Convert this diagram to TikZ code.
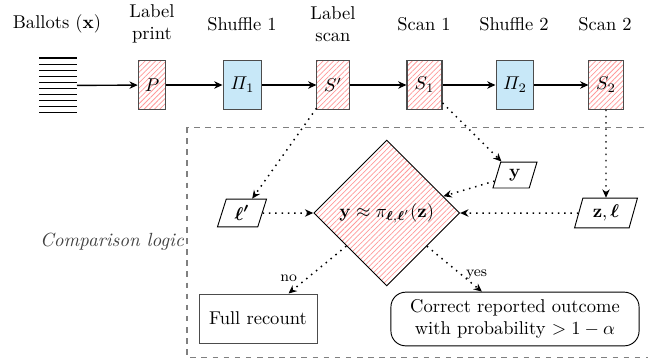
\documentclass[tikz,border=0pt]{standalone}
\usepackage{amsmath,amssymb}
\usetikzlibrary{shapes.geometric,arrows.meta,patterns.meta}
\definecolor{shufblue}{RGB}{200,232,248}
\newcommand{\myDiaText}{$\mathbf{y}\approx\pi_{\boldsymbol{\ell},\boldsymbol{\ell}^{\prime}}(\mathbf{z})$}
\newcommand{\myLp}{$\boldsymbol{\ell}^{\boldsymbol{\prime}}$}
\newcommand{\myZl}{$\mathbf{z},\boldsymbol{\ell}$}
\tikzset{
  hatchfill/.style={pattern={Lines[angle=45,distance=2pt,line width=0.4pt]}, pattern color=red!40},
}
\begin{document}
\begin{tikzpicture}[x=0.54pt,y=-0.54pt,
  stage/.style={draw=black!70, line width=0.55pt, minimum height=26pt, inner sep=2pt},
  hatched/.style={stage, hatchfill},
  shuf/.style={stage, fill=shufblue},
  toplabel/.style={align=center},
  arr/.style={-{Stealth[length=4.5pt,width=4pt]}, line width=0.75pt},
  dotarr/.style={-{Stealth[length=4.5pt,width=4pt]}, line width=0.8pt, dash pattern=on 0.8pt off 2.6pt},
  data/.style={draw, trapezium, trapezium left angle=75, trapezium right angle=105, trapezium stretches=true, inner sep=1pt, line width=0.5pt},
  edgelabel/.style={font=\footnotesize, inner sep=1pt},
  decision/.style={shape=diamond, draw, minimum width=78.8pt, minimum height=78.8pt, inner sep=0pt, line width=0.5pt, hatchfill},
]
\useasboundingbox (0,0) rectangle (648,358);

% dashed comparison frame
\draw[dashed, black!50, line width=0.55pt] (187,127) rectangle (680,357);
\node[font=\fontsize{10.3}{12.5}\selectfont\itshape, text=black!75] (cmp) at (112,242) {Comparison logic};

% ballot stack
\foreach \i in {0,...,9} {
  \draw[line width=0.6pt] (39,{58+6.08*\i}) -- (77,{58+6.08*\i});
}
\coordinate (stack) at (77,85.4);

% top labels
\node[toplabel] (lb0) at (57,24) {Ballots ($\mathbf{x}$)};
\node[toplabel] (lb1) at (152,24) {Label\\print};
\node[toplabel] (lb2) at (242,24) {Shuffle 1};
\node[toplabel] (lb3) at (333,24) {Label\\scan};
\node[toplabel] (lb4) at (424,24) {Scan 1};
\node[toplabel] (lb5) at (514,24) {Shuffle 2};
\node[toplabel] (lb6) at (605,24) {Scan 2};

% stages
\node[hatched, minimum width=15pt] (P) at (152,85) {$P$};
\node[shuf, minimum width=21pt] (Pi1) at (242.5,85) {$\varPi_1$};
\node[hatched, minimum width=17.3pt] (Sp) at (333,85) {$S^{\prime}$};
\node[hatched, minimum width=18.9pt] (S1) at (424.5,85) {$S_1$};
\node[shuf, minimum width=20.5pt] (Pi2) at (515,85) {$\varPi_2$};
\node[hatched, minimum width=18.4pt] (S2) at (606,85) {$S_2$};

\draw[arr] (stack) -- (P);
\draw[arr] (P) -- (Pi1);
\draw[arr] (Pi1) -- (Sp);
\draw[arr] (Sp) -- (S1);
\draw[arr] (S1) -- (Pi2);
\draw[arr] (Pi2) -- (S2);

% comparison
\node[decision] (dec) at (386.7,213) {};
\node (dectext) at (386.7,213) {\myDiaText};
\node[data, minimum width=26.5pt, minimum height=15pt] (lp) at (242,213) {\myLp};
\node[data, minimum width=23.8pt, minimum height=14pt] (yv) at (515,175) {$\mathbf{y}$};
\node[data, minimum width=34pt, minimum height=16pt] (zl) at (606,213) {\myZl};

\node[draw=black!70, line width=0.5pt, minimum width=63.7pt, minimum height=26.5pt] (full) at (258,318.5) {Full recount};
\node[draw, line width=0.5pt, rounded corners=8pt, align=center, minimum width=134pt, minimum height=29pt, inner sep=2pt] (ok) at (515,319)
      {Correct reported outcome\\with probability $>1-\alpha$};

\draw[dotarr] (Sp) -- (lp);
\draw[dotarr] (S1) -- (yv);
\draw[dotarr] (S2) -- (zl);
\draw[dotarr] (lp) -- (dec);
\draw[dotarr] (zl) -- (dec);
\draw[dotarr] (yv) -- (dec);
\draw[dotarr] (dec) -- node[edgelabel, pos=0.68, left=4pt] {no} (full);
\draw[dotarr] (dec) -- node[edgelabel, pos=0.63, right=1pt] {yes} (ok);
\end{tikzpicture}
\end{document}
